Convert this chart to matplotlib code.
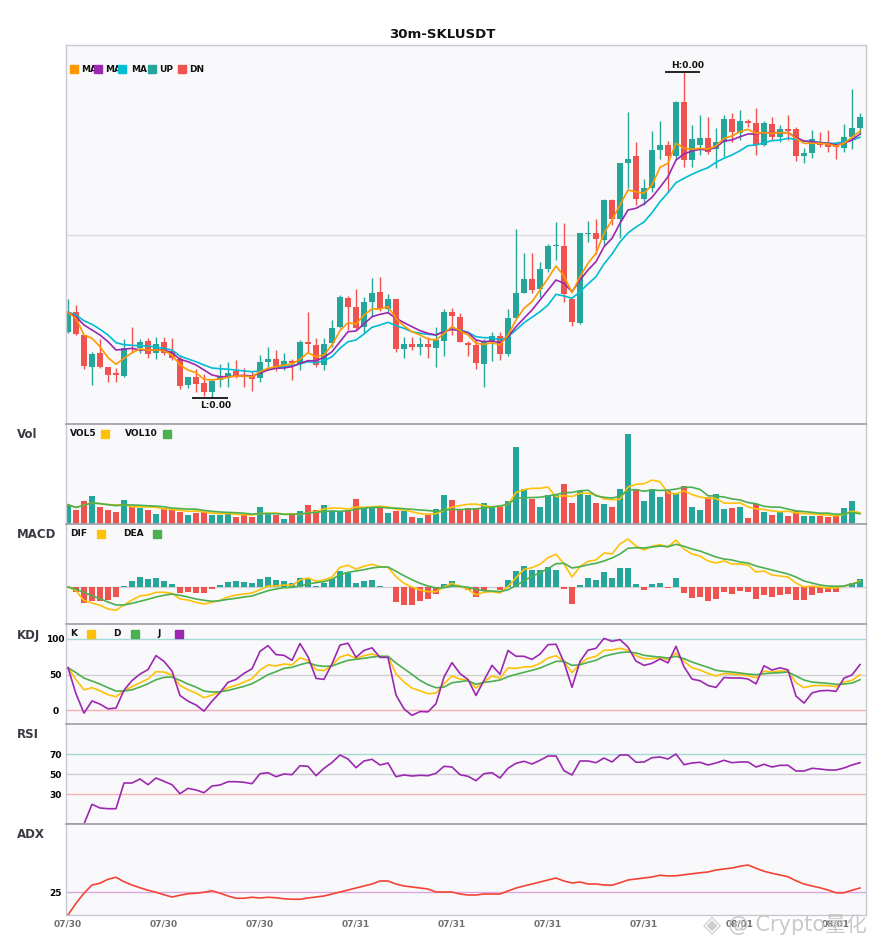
import numpy as np
import pandas as pd
import matplotlib
matplotlib.use("Agg")
import matplotlib.pyplot as plt
from matplotlib.patches import Rectangle

# ---------------- data (price in chart units; labels scaled by PRICE_UNIT) ----------------
PRICE_UNIT = 1e-5
opens = [92.3, 111.7, 89, 57.3, 71, 57, 51, 48.3, 76.3, 76,
         83, 70.7, 82, 73.3, 64.7, 39, 47, 41, 32, 44,
         47.3, 53, 49, 48.3, 46, 62, 64.7, 58.7, 63, 59.7,
         82.3, 79, 59, 80.7, 97, 125.7, 117, 97.3, 122.3, 132,
         115, 125, 75.3, 80, 77.3, 80, 76.3, 83.3, 112, 107,
         80.7, 79.3, 60, 83.3, 88, 70, 106.3, 131.3, 145, 134.7,
         155, 177.7, 178, 125, 101, 190.3, 191, 184, 224, 205,
         261, 268, 224.7, 235.7, 274, 279, 268, 321.7, 264, 278.7,
         286, 274.7, 282.3, 304.7, 291.3, 303, 301.3, 279, 299.7, 287.3,
         295, 295, 268, 271.3, 280.7, 280, 279, 275.7, 286.7, 295.7]
closes = [111.7, 90, 58.3, 70.3, 57, 49.3, 48.7, 76.3, 75.3, 82,
          70.3, 80, 70.7, 65.7, 38.3, 46.7, 40.3, 32, 43.3, 47.3,
          50.7, 47.3, 46.7, 45, 61.7, 65, 56.3, 63, 60.7, 82.3,
          79.7, 59, 80, 96.3, 127.3, 117.3, 96.3, 122.3, 131, 115,
          125, 75.3, 80, 77.3, 80, 77.3, 84, 112, 108.3, 82.3,
          79.3, 61, 82.3, 88, 70, 106, 131, 145, 134, 155,
          178, 178.3, 129.7, 102, 191, 191.3, 185, 224, 205, 261,
          265, 224.7, 236.3, 274, 279, 268, 321.7, 264, 285.3, 286,
          272, 282, 304.7, 292, 303, 301.3, 279, 301.3, 287.3, 294.7,
          293.3, 268, 270.7, 285, 279, 277.3, 276.7, 286.7, 295.7, 306.7]
highs = [124.7, 119, 89, 72.3, 84.7, 57, 55.7, 84.7, 96.7, 85,
         85.7, 87.3, 87.3, 86.3, 69, 47.3, 54.7, 49.7, 44.7, 59.7,
         62, 64, 56.3, 53, 69.3, 76.7, 74, 71.3, 65, 83.7,
         112.3, 86, 85.7, 104, 129, 128, 134.7, 127.3, 146, 147,
         129.7, 125, 87.3, 87.3, 86.7, 87.3, 96.7, 115.3, 116.3, 110.7,
         83.3, 84, 85.3, 92.3, 92.3, 115.3, 195, 171.3, 171.3, 162,
         180.3, 201.7, 200.7, 125, 191, 203.3, 205, 225, 224.7, 261,
         312.3, 282, 245.3, 293, 303, 283, 323.3, 352, 298.7, 309,
         307.3, 295.7, 309, 310.7, 314, 305.3, 316.3, 303, 307, 299,
         309, 297.3, 275.7, 294, 292.3, 293.7, 282.3, 300, 334.7, 311.3]
lows = [90.7, 88.7, 55, 39, 56.3, 42.3, 41.7, 47.3, 70.7, 70.7,
        66.3, 64.7, 69, 64, 35, 35.7, 32, 28, 26.3, 37.3,
        37.3, 46.3, 37.3, 33.3, 42, 57, 53.3, 54, 44, 54,
        72.3, 57.3, 54, 77.3, 95.7, 94, 94, 90.7, 107.3, 113.3,
        110.7, 72.3, 66.3, 74, 69, 66.3, 57.3, 68.3, 89, 82.3,
        68.3, 55.3, 37.3, 63, 64, 68.3, 106, 130.7, 130.7, 127.3,
        152, 164, 122.3, 98, 100, 182.3, 170, 179, 198.7, 186,
        235.7, 219, 219, 232.3, 264.7, 232.3, 264, 257.3, 257.3, 269,
        269.7, 255.7, 267.3, 282.3, 284, 297.3, 269, 278, 284, 282.3,
        284, 263.3, 260.7, 265.7, 276.7, 272.3, 264.7, 272.3, 274.7, 290]

ma_fast = [111.7, 105.7, 89, 85.7, 77.3, 66.3, 59.7, 65.7, 71.3, 75,
           74, 74, 73.3, 69, 59, 54, 51.3, 44.7, 44, 45,
           46.7, 48, 48, 47.3, 52.3, 55.7, 57.3, 59, 60, 64.7,
           71.3, 67.3, 69, 79, 93.3, 101.3, 100, 109, 115, 115,
           117.3, 105.7, 98, 92.3, 89, 85, 84, 90.7, 97.3, 93.3,
           89, 80.7, 79.7, 81.3, 79, 89, 104, 115.7, 122.3, 134,
           145.7, 158, 148, 131.3, 147.3, 160.7, 170.7, 190.7, 204, 219,
           234, 232.3, 230.7, 239, 256.7, 260.7, 280.7, 275.7, 274.7, 275.7,
           274.7, 278, 285.7, 288, 292.3, 294.7, 290.7, 291.3, 290.7, 291.3,
           291.3, 285.7, 280.7, 280.7, 280.7, 280, 278, 280.7, 286.7, 293]
ma_mid = [111.7, 107.3, 99, 94, 89, 82.3, 74, 74.7, 75.7, 74,
          74, 74, 74, 71.3, 64.7, 62.3, 59, 54, 49, 47.3,
          47.3, 48, 48.7, 48, 50.7, 54, 55.7, 56, 57.3, 60.7,
          63.3, 63.3, 66.7, 72.3, 82.3, 92.3, 93, 100, 107.3, 109.7,
          111.3, 105.7, 101.3, 97.3, 93.3, 90.7, 89, 92.3, 94.7, 93.3,
          91.3, 84, 82.3, 83, 81.3, 87.3, 97.3, 105.7, 114, 124,
          134, 144, 140.7, 132.3, 144, 154, 162.3, 177.3, 185.7, 200.7,
          214, 215.7, 220, 226.7, 236.7, 247.3, 264, 270, 273, 274.7,
          274, 276.7, 283, 284, 287.3, 290, 290, 291.3, 291.3, 291.3,
          291.3, 286.7, 283, 282.3, 281.3, 280.7, 279, 280.7, 284, 290]
ma_slow = [111.7, 109, 103.3, 99.7, 94.7, 89, 81.3, 79.3, 78.7, 78,
           78, 76.7, 75.7, 74, 68, 65, 62.3, 59, 56, 55.3,
           54.7, 54, 53, 52.3, 53, 54.7, 56, 57.3, 58.3, 60,
           62.3, 61.3, 63.3, 67.3, 75.7, 82.3, 84, 90, 96.7, 99,
           101.7, 98.3, 95.7, 92.3, 90.7, 89.7, 89, 93, 94.7, 94,
           91.7, 87.3, 86.3, 86.3, 84, 87.3, 94, 101.3, 106.7, 112.3,
           119, 129.7, 128, 125.7, 132.3, 140, 147.3, 160, 170, 182,
           191, 197, 202, 211.3, 222.3, 231.3, 241.3, 245.7, 249.7, 253.3,
           256.3, 261.7, 265.7, 269, 273.3, 278.3, 279, 281.3, 283.3, 284,
           285.7, 284.7, 283, 282.3, 281.7, 280.7, 280.7, 282.3, 284, 286.7]

volume = [19.3, 13.7, 23.3, 28.3, 17.3, 14.3, 12.3, 24.3, 18.3, 16.3,
          14.3, 10.3, 16.3, 15.3, 12.3, 9.3, 11.3, 12.3, 9.3, 9.3,
          10.3, 7.3, 10.7, 7.3, 17.3, 10.3, 9.3, 5.3, 9.3, 13.3,
          19.3, 14.3, 19.3, 13.3, 13.3, 14.3, 25.3, 16.3, 16.3, 16.3,
          11.3, 13.3, 13.3, 7.3, 6.3, 9.3, 15.3, 29.3, 24.3, 14,
          15.7, 16.3, 21.3, 18.3, 17.3, 23.3, 77.3, 35.3, 25.3, 17.3,
          29.3, 29.3, 40.3, 21.3, 33.3, 29.3, 21.3, 20.3, 17.3, 35.3,
          90.3, 35.3, 23.3, 35.3, 27.3, 33.3, 31.3, 38.3, 17.3, 14.3,
          27.3, 30.3, 15.3, 16.3, 17.3, 6.3, 20.3, 12.3, 9.3, 13.3,
          8.3, 13, 8.3, 8.3, 8.3, 7.3, 8.3, 16.3, 23.3, 1.3]

dif = [0, -3.7, -13.7, -16, -18.3, -22, -23.3, -18, -13, -9,
       -8, -5.3, -5.3, -6.3, -12, -13, -15.3, -17, -15.3, -13.3,
       -10, -8, -7, -6, -2.7, 1, 1, 2, 1.7, 7,
       9, 5.7, 7, 10, 19.7, 21.7, 18, 20.7, 22.7, 20.3,
       19.7, 10.3, 3.7, 0, -3, -4.7, -4.7, 0, 3.7, 0.7,
       -2.3, -8, -5.3, -4.7, -6, 0.3, 9.3, 17.7, 19.3, 22.7,
       29.3, 32.7, 23, 10, 20.3, 25.7, 27, 34, 33, 43,
       48, 41, 37, 40.7, 42.3, 40, 47, 38, 33, 31,
       26, 24, 26, 23, 23, 22, 15, 16, 12, 11,
       10, 4, 0, 1, 0, -1, -1, 1, 3, 6]
dea = [0, -2.3, -5.3, -8.7, -11.7, -15, -18, -18, -16.3, -14.3,
       -12.3, -10, -8.3, -7, -8.3, -10, -12, -13.3, -14.3, -13.7,
       -12.3, -11.3, -10, -9, -6.3, -3.7, -2, -0.7, -0.3, 1,
       3, 4.3, 5.3, 7.7, 12.3, 14.7, 16, 17.3, 19, 20,
       20, 15.7, 11.3, 7.3, 3.7, 1, -1, -0.7, 1, 0.7,
       -0.3, -2.3, -3.7, -4, -4.7, -2.7, 1.3, 6.3, 10.7, 14.3,
       18.3, 23.3, 23.7, 19, 20.3, 22.3, 23.7, 26, 29, 33,
       38.7, 39.3, 39, 40, 41, 40.3, 42.7, 40.7, 38, 36,
       33, 30, 28, 27, 25, 24, 21, 19, 17, 15,
       13, 10, 6, 4, 2, 1, 0.7, 1, 3, 5]
macd_hist = [0, -5.3, -16, -13.7, -13.7, -13, -9.7, 1, 6, 10,
             8, 9, 6, 2.7, -6, -5, -6, -6, -1.7, 2,
             5, 6, 5, 4, 8, 10, 7, 6, 4, 9,
             8, 1, 4, 8, 16, 14.3, 4, 6, 7, 1,
             0, -15, -18, -18, -14, -12, -7, 3, 6, 0.5,
             -2.7, -10, -4, 0, -3, 7, 16, 21, 17.3, 17,
             20.3, 17, -2, -17, 2, 9, 7, 15, 9, 19,
             19, 3, -2.7, 3, 4, -0.7, 9, -6, -11, -10,
             -14, -12, -5, -7, -4, -5, -12, -8, -10, -8,
             -7, -13, -13, -8, -6, -5, -5, 0, 4, 8]

k_line = [59.6, 42.7, 28.6, 31.5, 27.2, 21.6, 18.8, 27.2, 32.9, 38.5,
          43.7, 54, 53.5, 49.3, 34.7, 28.6, 24, 17.4, 21.1, 25.4,
          31.5, 34.7, 39.4, 44.1, 56.3, 63.4, 62, 64.8, 63.4, 73.7,
          69.5, 56.8, 55.4, 63, 74.6, 78, 72.3, 76.5, 78.9, 75.1,
          75.1, 51.2, 39.4, 31, 27.2, 23, 24, 37.1, 47.9, 43.7,
          42, 31, 39.9, 47.9, 45, 59.2, 58.7, 60.6, 61, 65.7,
          73.2, 76.5, 68.1, 52.6, 65.3, 72.8, 75.6, 84, 84.5, 86.9,
          84, 76.5, 72.3, 72.3, 73.7, 70.9, 80.3, 68.5, 59.6, 56.3,
          51.6, 47.9, 51.6, 50.7, 49.8, 48.4, 45.5, 54.9, 53.5, 54.9,
          54.5, 38.5, 31.5, 34.3, 34.7, 34.3, 32.9, 39.4, 41.8, 49.8]
d_line = [59.6, 52.6, 45, 40.8, 36.6, 31.5, 26.8, 26.8, 28.6, 32.4,
          37.1, 42.7, 46, 46.5, 41.8, 36.6, 32.4, 26.8, 25.4, 25.8,
          27.7, 30.5, 33.3, 37.1, 43.2, 49.8, 54, 58.7, 60.1, 63.8,
          66.7, 62.9, 61.5, 62, 66.2, 70, 71.4, 72.8, 74.6, 75.6,
          75.6, 66.2, 58.2, 50.2, 41.8, 35.7, 31.5, 32.4, 38.5, 39.9,
          41.5, 36.2, 39, 40.4, 42.3, 46.9, 50.2, 53.1, 55.9, 59.2,
          63.8, 68.5, 68.5, 62.9, 63.8, 67.1, 70, 75.6, 78.4, 80.8,
          81.7, 80.3, 77, 75.6, 74.6, 73.2, 75.6, 72.3, 67.6, 63.8,
          60.1, 55.9, 54.5, 53.5, 52.1, 50.7, 49.8, 51.2, 52.1, 52.6,
          53.5, 47.9, 42.3, 39.4, 38.5, 37.6, 36.2, 36.6, 38, 42.7]

rsi = [0, 0, 0, 19.7, 16, 15.3, 15.3, 41, 41, 45,
       39.3, 46, 42.7, 39.3, 30.3, 35.7, 34, 31.3, 38, 39,
       42.3, 42.3, 41.7, 40.3, 50.3, 51.3, 47.3, 50, 49.3, 58.3,
       57.7, 48.3, 55.7, 61.5, 69, 65, 56.3, 63, 64.7, 59,
       61, 47.3, 49, 48, 48.7, 48.3, 50.7, 57.7, 57, 49.3,
       47.7, 43.3, 50.3, 51.3, 46, 55.7, 60.7, 62.7, 60, 63.7,
       68, 68, 53.3, 49, 63, 63, 61.3, 66, 62, 69,
       69, 61.7, 62, 66.3, 67, 65, 70, 59.3, 61, 61.7,
       59, 61, 63.7, 61.3, 62, 62, 57, 59.7, 57, 58.7,
       58.7, 53, 53, 55.7, 55, 54, 54, 56, 59, 61.3]

adx = [15.8, 20.5, 24.5, 27.8, 28.5, 30.1, 30.9, 29.1, 27.8, 26.7,
       25.7, 24.9, 23.9, 23, 23.7, 24.3, 24.5, 24.9, 25.5, 24.5,
       23.4, 22.5, 22.5, 22.9, 22.6, 22.9, 22.7, 22.3, 22.1, 22.1,
       22.6, 23, 23.4, 24.2, 25, 25.8, 26.6, 27.4, 28.2, 29.4,
       29.4, 28.2, 27.4, 27, 26.6, 26.2, 25, 25, 25, 24.2,
       23.8, 23.8, 24.2, 24.2, 24.2, 25.4, 26.6, 27.4, 28.2, 29,
       29.8, 30.6, 29.4, 28.6, 29, 28.2, 28.2, 27.8, 27.7, 28.7,
       29.8, 30.2, 30.6, 31, 31.7, 31.4, 31.5, 31.9, 32.3, 32.7,
       33, 33.8, 34.2, 34.6, 35.3, 35.8, 34.5, 33.3, 32.5, 31.8,
       31.1, 29.5, 28.2, 27.4, 26.7, 25.8, 24.7, 24.7, 25.7, 26.6]

tick_positions = [0, 12, 24, 36, 48, 60, 72, 84, 96]
tick_labels = ["07/30", "07/30", "07/30", "07/31", "07/31", "07/31", "07/31", "08/01", "08/01"]

# ---------------- styling ----------------
UP, DN = "#26a69a", "#ef5350"
C_ORANGE, C_PURPLE, C_CYAN = "#ff9800", "#9c27b0", "#00bcd4"
C_YEL, C_GRN = "#ffc107", "#4caf50"
BG = "#f9f9fb"
W, H = 885, 950

fig = plt.figure(figsize=(W / 100, H / 100), dpi=100)
fig.patch.set_facecolor("white")


def fx(x):
    return x / W


def fy(y):
    return 1 - y / H


def panel(top, bottom, sub=True):
    ax = fig.add_axes([fx(66), fy(bottom), 800 / W, (bottom - top) / H])
    ax.set_facecolor(BG)
    ax.set_xlim(-0.25, 99.75)
    ax.set_xticks([])
    ax.set_yticks([])
    for s in ax.spines.values():
        s.set_color("#c8c8d2")
        s.set_linewidth(1)
    if sub:
        ax.spines["top"].set_color("#a4a4ac")
        ax.spines["top"].set_linewidth(1.3)
    return ax


def ylabels(ax, ticks):
    ax.set_yticks(ticks)
    ax.set_yticklabels([str(t) for t in ticks], fontsize=6.5, fontweight="bold", ha="center")
    ax.tick_params(axis="y", length=0, pad=7.5)


def legend_item(x, y, text, color=None, sq_x=None):
    if text:
        fig.text(fx(x), fy(y), text, fontsize=6.5, fontweight="bold", color="#111111",
                 ha="left", va="center")
    if color is not None:
        fig.patches.append(Rectangle((fx(sq_x), fy(y + 4)), 8 / W, 8 / H,
                                     transform=fig.transFigure, color=color, zorder=5))


x = np.arange(len(closes))
o = np.array(opens); c = np.array(closes); h = np.array(highs); l = np.array(lows)
up = c >= o
cols = np.where(up, UP, DN)

# ---------------- main candles ----------------
ax0 = panel(45, 424, sub=False)
ax0.set_ylim(0, 379)
ax0.axhline(189.5, color="#dcdce2", lw=1, zorder=0)
ax0.vlines(x, l, h, colors=cols, lw=1, zorder=2)
ax0.bar(x, np.maximum(np.abs(c - o), 0.9), bottom=np.minimum(o, c), width=0.66,
        color=cols, zorder=2)
ax0.plot(x, ma_slow, color=C_CYAN, lw=1.2, zorder=3)
ax0.plot(x, ma_mid, color=C_PURPLE, lw=1.2, zorder=3)
ax0.plot(x, ma_fast, color=C_ORANGE, lw=1.2, zorder=3)

hi = int(np.argmax(h)); lo = int(np.argmin(l))
ax0.hlines(h[hi], hi - 2.4, hi + 2.0, color="black", lw=1.2, zorder=4)
ax0.text(hi + 0.5, h[hi] + 2.5, f"H:{h[hi] * PRICE_UNIT:.2f}", ha="center", va="bottom",
         fontsize=6.5, fontweight="bold", color="#111111")
ax0.hlines(l[lo], lo - 2.5, lo + 2.0, color="black", lw=1.2, zorder=4)
ax0.text(lo + 0.5, l[lo] - 3, f"L:{l[lo] * PRICE_UNIT:.2f}", ha="center", va="top",
         fontsize=6.5, fontweight="bold", color="#111111")

legend_item(81, 69, "MA", C_ORANGE, 70)
legend_item(105, 69, "MA", C_PURPLE, 94)
legend_item(131, 69, "MA", C_CYAN, 118)
legend_item(159, 69, "UP", UP, 148)
legend_item(189, 69, "DN", DN, 178)

fig.text(0.5, fy(34), "30m-SKLUSDT", ha="center", va="center", fontsize=9.5,
         fontweight="bold", color="#111111")

# ---------------- volume ----------------
ax1 = panel(424, 524)
ax1.set_ylim(0, 100)
vs = pd.Series(volume)
ax1.bar(x, volume, width=0.75, color=cols, zorder=2)
ax1.plot(x, vs.rolling(5, min_periods=1).mean(), color=C_YEL, lw=1.2, zorder=3)
ax1.plot(x, vs.rolling(10, min_periods=1).mean(), color=C_GRN, lw=1.2, zorder=3)
legend_item(70, 434, "VOL5", C_YEL, 101)
legend_item(125, 434, "VOL10", C_GRN, 163)

# ---------------- MACD ----------------
ax2 = panel(524, 624)
ax2.set_ylim(-37, 63)
ax2.axhline(0, color="#cfcfd4", lw=1, zorder=0)
hv = np.array(macd_hist)
ax2.bar(x, hv, width=0.75, color=np.where(hv >= 0, UP, DN), zorder=2)
ax2.plot(x, dif, color=C_YEL, lw=1.2, zorder=3)
ax2.plot(x, dea, color=C_GRN, lw=1.2, zorder=3)
legend_item(70, 534, "DIF", C_YEL, 97)
legend_item(123, 534, "DEA", C_GRN, 153)

# ---------------- KDJ ----------------
ax3 = panel(624, 724)
ax3.set_ylim(-19.5, 121)
ax3.axhline(100, color="#a6d9d6", lw=1, zorder=0)
ax3.axhline(50, color="#d0d0d4", lw=1, zorder=0)
ax3.axhline(0, color="#f6b0b0", lw=1, zorder=0)
kk = np.array(k_line); dd = np.array(d_line)
jj = 3 * kk - 2 * dd
ax3.plot(x, kk, color=C_YEL, lw=1.2, zorder=3)
ax3.plot(x, dd, color=C_GRN, lw=1.2, zorder=3)
ax3.plot(x, jj, color=C_PURPLE, lw=1.2, zorder=3)
ylabels(ax3, [0, 50, 100])
legend_item(70, 634, "K", C_YEL, 87)
legend_item(113, 634, "D", C_GRN, 131)
legend_item(157, 634, "J", C_PURPLE, 175)

# ---------------- RSI ----------------
ax4 = panel(724, 824)
ax4.set_ylim(0, 100)
ax4.axhline(70, color="#a6d9d6", lw=1, zorder=0)
ax4.axhline(50, color="#d0d0d4", lw=1, zorder=0)
ax4.axhline(30, color="#f6b0b0", lw=1, zorder=0)
ax4.plot(x, rsi, color=C_PURPLE, lw=1.2, zorder=3)
ylabels(ax4, [30, 50, 70])

# ---------------- ADX ----------------
ax5 = panel(824, 915)
ax5.set_ylim(15.8, 52.2)
ax5.axhline(25, color="#dca6e0", lw=1, zorder=0)
ax5.plot(x, adx, color="#f44336", lw=1.2, zorder=3)
ylabels(ax5, [25])
ax5.set_xticks(tick_positions)
ax5.set_xticklabels(tick_labels, fontsize=6.5, fontweight="bold", color="#707070")
ax5.tick_params(axis="x", length=0, pad=3)

# panel titles
for name, yy in [("Vol", 435), ("MACD", 535), ("KDJ", 635), ("RSI", 735), ("ADX", 835)]:
    fig.text(fx(17), fy(yy), name, fontsize=8.5, fontweight="bold", color="#3a3a44",
             ha="left", va="center")

# watermark
fig.text(fx(703), fy(925), "◈", fontsize=17, color="#c8c8c8", ha="left", va="center",
         family=["DejaVu Sans"], alpha=0.9)
fig.text(fx(728), fy(925), "@ Crypto量化", fontsize=15, color="#c4c4c4", ha="left",
         va="center", family=["DejaVu Sans", "Noto Sans CJK SC"], alpha=0.9)

fig.savefig("out.png", dpi=100, facecolor="white")
